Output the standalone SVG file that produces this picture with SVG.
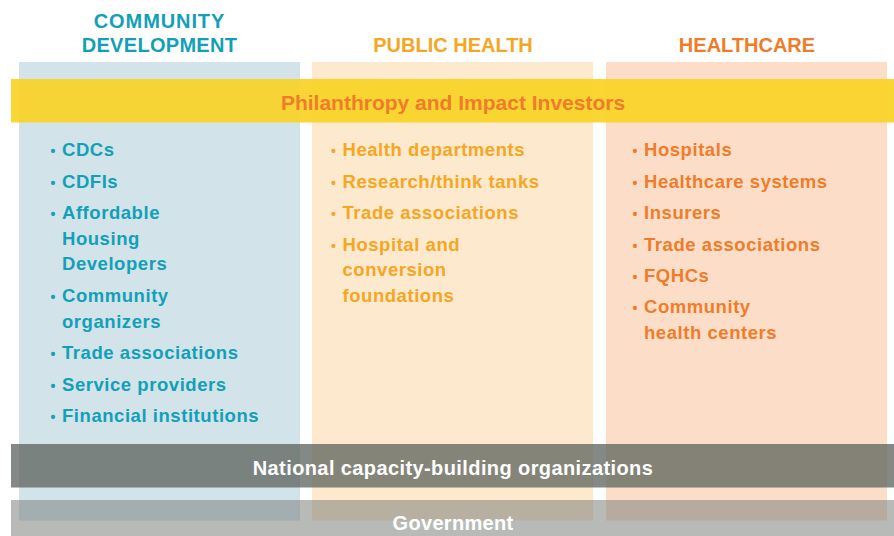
<svg xmlns="http://www.w3.org/2000/svg" width="894" height="536" viewBox="0 0 894 536">
<style>
text{font-family:"Liberation Sans",Arial,sans-serif;font-weight:bold}
.h{font-size:20px;text-anchor:middle}
.li{font-size:18.5px;letter-spacing:0.55px}
.b{font-size:14px;text-anchor:middle}
.cd{fill:#12a0b8}
.ph{fill:#f5a623}
.hc{fill:#f07c2a}
.band{font-size:20px;text-anchor:middle;fill:#ffffff}
</style>
<rect width="894" height="536" fill="#ffffff"/>
<g id="community-development">
<rect x="19" y="62" width="281" height="458.5" fill="#d3e3ea"/>
<text class="h cd" x="159.5" y="28" letter-spacing="0.9">COMMUNITY</text>
<text class="h cd" x="159.5" y="52" letter-spacing="0.3">DEVELOPMENT</text>
</g>
<g id="public-health">
<rect x="312" y="62" width="281" height="458.5" fill="#fde9cd"/>
<text class="h ph" x="453" y="52">PUBLIC HEALTH</text>
</g>
<g id="healthcare">
<rect x="606" y="62" width="281" height="458.5" fill="#fcdec8"/>
<text class="h hc" x="747" y="52">HEALTHCARE</text>
</g>
<g id="philanthropy">
<rect x="11" y="79" width="883" height="43.5" fill="#f9d225" fill-opacity="0.92"/>
<text x="453" y="109.5" font-size="21" text-anchor="middle" fill="#f07c2a">Philanthropy and Impact Investors</text>
</g>
<g id="community-development-list">
<text class="b cd" x="53" y="156">•</text><text class="li cd" x="62" y="156">CDCs</text>
<text class="b cd" x="53" y="187.5">•</text><text class="li cd" x="62" y="187.5">CDFIs</text>
<text class="b cd" x="53" y="219">•</text><text class="li cd" x="62" y="219">Affordable</text>
<text class="li cd" x="62" y="244.5">Housing</text>
<text class="li cd" x="62" y="270">Developers</text>
<text class="b cd" x="53" y="302">•</text><text class="li cd" x="62" y="302">Community</text>
<text class="li cd" x="62" y="327.5">organizers</text>
<text class="b cd" x="53" y="359">•</text><text class="li cd" x="62" y="359">Trade associations</text>
<text class="b cd" x="53" y="390.5">•</text><text class="li cd" x="62" y="390.5">Service providers</text>
<text class="b cd" x="53" y="422">•</text><text class="li cd" x="62" y="422">Financial institutions</text>
</g>
<g id="public-health-list">
<text class="b ph" x="333.5" y="156">•</text><text class="li ph" x="342.5" y="156">Health departments</text>
<text class="b ph" x="333.5" y="187.5">•</text><text class="li ph" x="342.5" y="187.5">Research/think tanks</text>
<text class="b ph" x="333.5" y="219">•</text><text class="li ph" x="342.5" y="219">Trade associations</text>
<text class="b ph" x="333.5" y="250.5">•</text><text class="li ph" x="342.5" y="250.5">Hospital and</text>
<text class="li ph" x="342.5" y="276">conversion</text>
<text class="li ph" x="342.5" y="301.5">foundations</text>
</g>
<g id="healthcare-list">
<text class="b hc" x="635" y="156">•</text><text class="li hc" x="644" y="156">Hospitals</text>
<text class="b hc" x="635" y="187.5">•</text><text class="li hc" x="644" y="187.5">Healthcare systems</text>
<text class="b hc" x="635" y="219">•</text><text class="li hc" x="644" y="219">Insurers</text>
<text class="b hc" x="635" y="250.5">•</text><text class="li hc" x="644" y="250.5">Trade associations</text>
<text class="b hc" x="635" y="281.5">•</text><text class="li hc" x="644" y="281.5">FQHCs</text>
<text class="b hc" x="635" y="313">•</text><text class="li hc" x="644" y="313">Community</text>
<text class="li hc" x="644" y="339">health centers</text>
</g>
<g id="national-capacity-building">
<rect x="11" y="444" width="883" height="43.5" fill="#5c615c" fill-opacity="0.75"/>
<text class="band" x="453" y="475" letter-spacing="0.4">National capacity-building organizations</text>
</g>
<g id="government">
<rect x="11" y="500" width="883" height="36" fill="#7d827d" fill-opacity="0.55"/>
<text class="band" x="453" y="530" letter-spacing="0.3">Government</text>
</g>
</svg>
